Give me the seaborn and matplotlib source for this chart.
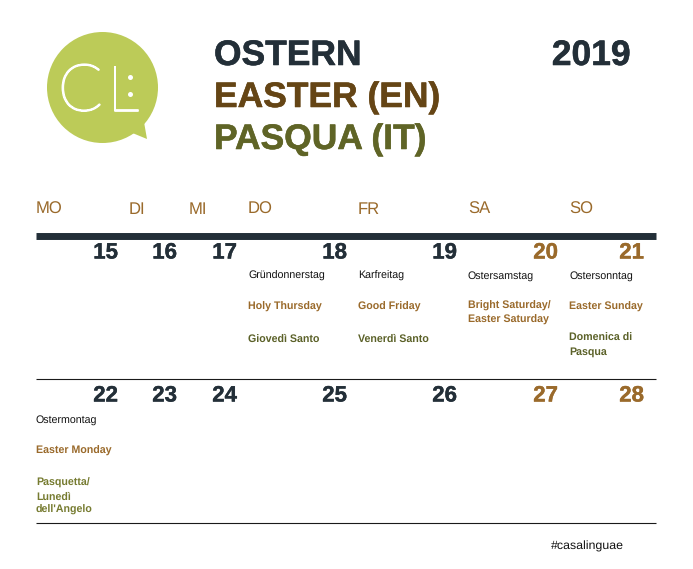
import seaborn as sns
import matplotlib.pyplot as plt
import matplotlib.patheffects as pe
from matplotlib.patches import Circle, Polygon

titles = ["OSTERN", "EASTER (EN)", "PASQUA (IT)"]
year = "2019"
weekdays = ["MO", "DI", "MI", "DO", "FR", "SA", "SO"]
week1 = [15, 16, 17, 18, 19, 20, 21]
week2 = [22, 23, 24, 25, 26, 27, 28]
hashtag = "#casalinguae"

# one entry per day: german, english, italian (lines)
notes1 = {
    3: (["Gründonnerstag"], ["Holy Thursday"], ["Giovedì Santo"]),
    4: (["Karfreitag"], ["Good Friday"], ["Venerdì Santo"]),
    5: (["Ostersamstag"], ["Bright Saturday/", "Easter Saturday"], []),
    6: (["Ostersonntag"], ["Easter Sunday"], ["Domenica di", "Pasqua"]),
}
notes2 = {
    0: (["Ostermontag"], ["Easter Monday"], ["Pasquetta/", "Lunedì", "dell'Angelo"]),
}

dark = "#232f38"
brown = "#9a6a2b"
title_brown = "#654515"
title_green = "#5f6426"
note_green = "#5b6128"
note_green2 = "#767b30"
logo_green = "#bccb58"

col_left = [36, 129, 189, 248, 358, 468, 569]
col_right = [118, 177, 237, 347, 457, 558, 644]

sns.set_theme(style="white")
plt.rcParams["font.family"] = ["Liberation Sans", "DejaVu Sans"]
plt.rcParams["text.hinting"] = "no_hinting"

fig = plt.figure(figsize=(6.93, 5.69), dpi=100)
ax = fig.add_axes([0, 0, 1, 1])
ax.set_xlim(0, 693)
ax.set_ylim(569, 0)
ax.axis("off")

# logo
ax.add_patch(Circle((102.5, 87.5), 55.5, color=logo_green, lw=0))
ax.add_patch(Polygon([(130, 132), (144, 122), (147, 139)], color=logo_green, lw=0))
thick = [pe.withStroke(linewidth=1.3, foreground="white")]
ax.text(58, 110.5, "C", color="white", fontsize=47, family="Lato", weight="light",
        ha="left", va="baseline", path_effects=thick)
ax.text(107.5, 110.5, "L", color="white", fontsize=45, family="Lato", weight="light",
        ha="left", va="baseline", path_effects=thick)
ax.add_patch(Circle((130.5, 77.5), 2.5, color="white", lw=0))
ax.add_patch(Circle((130.5, 94.5), 2.5, color="white", lw=0))

# header
for t, y, c in zip(titles, [65, 107, 149], [dark, title_brown, title_green]):
    ax.text(214, y, t, color=c, fontsize=25.5, weight="bold", ha="left", va="baseline",
            path_effects=[pe.withStroke(linewidth=0.4, foreground=c)])
ax.text(630.5, 65, year, color=dark, fontsize=25.5, weight="bold", ha="right", va="baseline",
        path_effects=[pe.withStroke(linewidth=0.4, foreground=dark)])

for d, x in zip(weekdays, col_left):
    ax.text(x, 213.5, d, color=brown, fontsize=12, ha="left", va="baseline")

# rules
ax.hlines(235.5, 36, 656, color=dark, lw=5)
ax.hlines([379, 523], 36, 656, color="#1a1a1a", lw=0.8)

# dates
for row, y in zip([week1, week2], [258.5, 401.5]):
    for i, day in enumerate(row):
        c = brown if i >= 5 else dark
        ax.text(col_right[i], y, str(day), color=c, fontsize=16, weight="bold", ha="right", va="baseline",
                path_effects=[pe.withStroke(linewidth=0.3, foreground=c)])


def draw_notes(notes, ys, it_color):
    for col, (de, en, it) in notes.items():
        for lines, y, c, w, fs in zip([de, en, it], ys, ["#111111", brown, it_color],
                                      ["normal", "bold", "bold"], [7.65, 7.65, 7.65]):
            start = y[0] if len(lines) == 1 else y[1]
            for k, line in enumerate(lines):
                ax.text(col_left[col], start + k * 13.5, line, color=c, fontsize=fs, weight=w, ha="left", va="baseline")


draw_notes(notes1, [(279, 279), (310, 309), (342, 341)], note_green)
draw_notes(notes2, [(423, 423), (454, 454), (485, 486)], note_green2)

ax.text(551, 550, hashtag, color="#111111", fontsize=8.9, ha="left", va="baseline")

plt.savefig("out.png", dpi=100)
